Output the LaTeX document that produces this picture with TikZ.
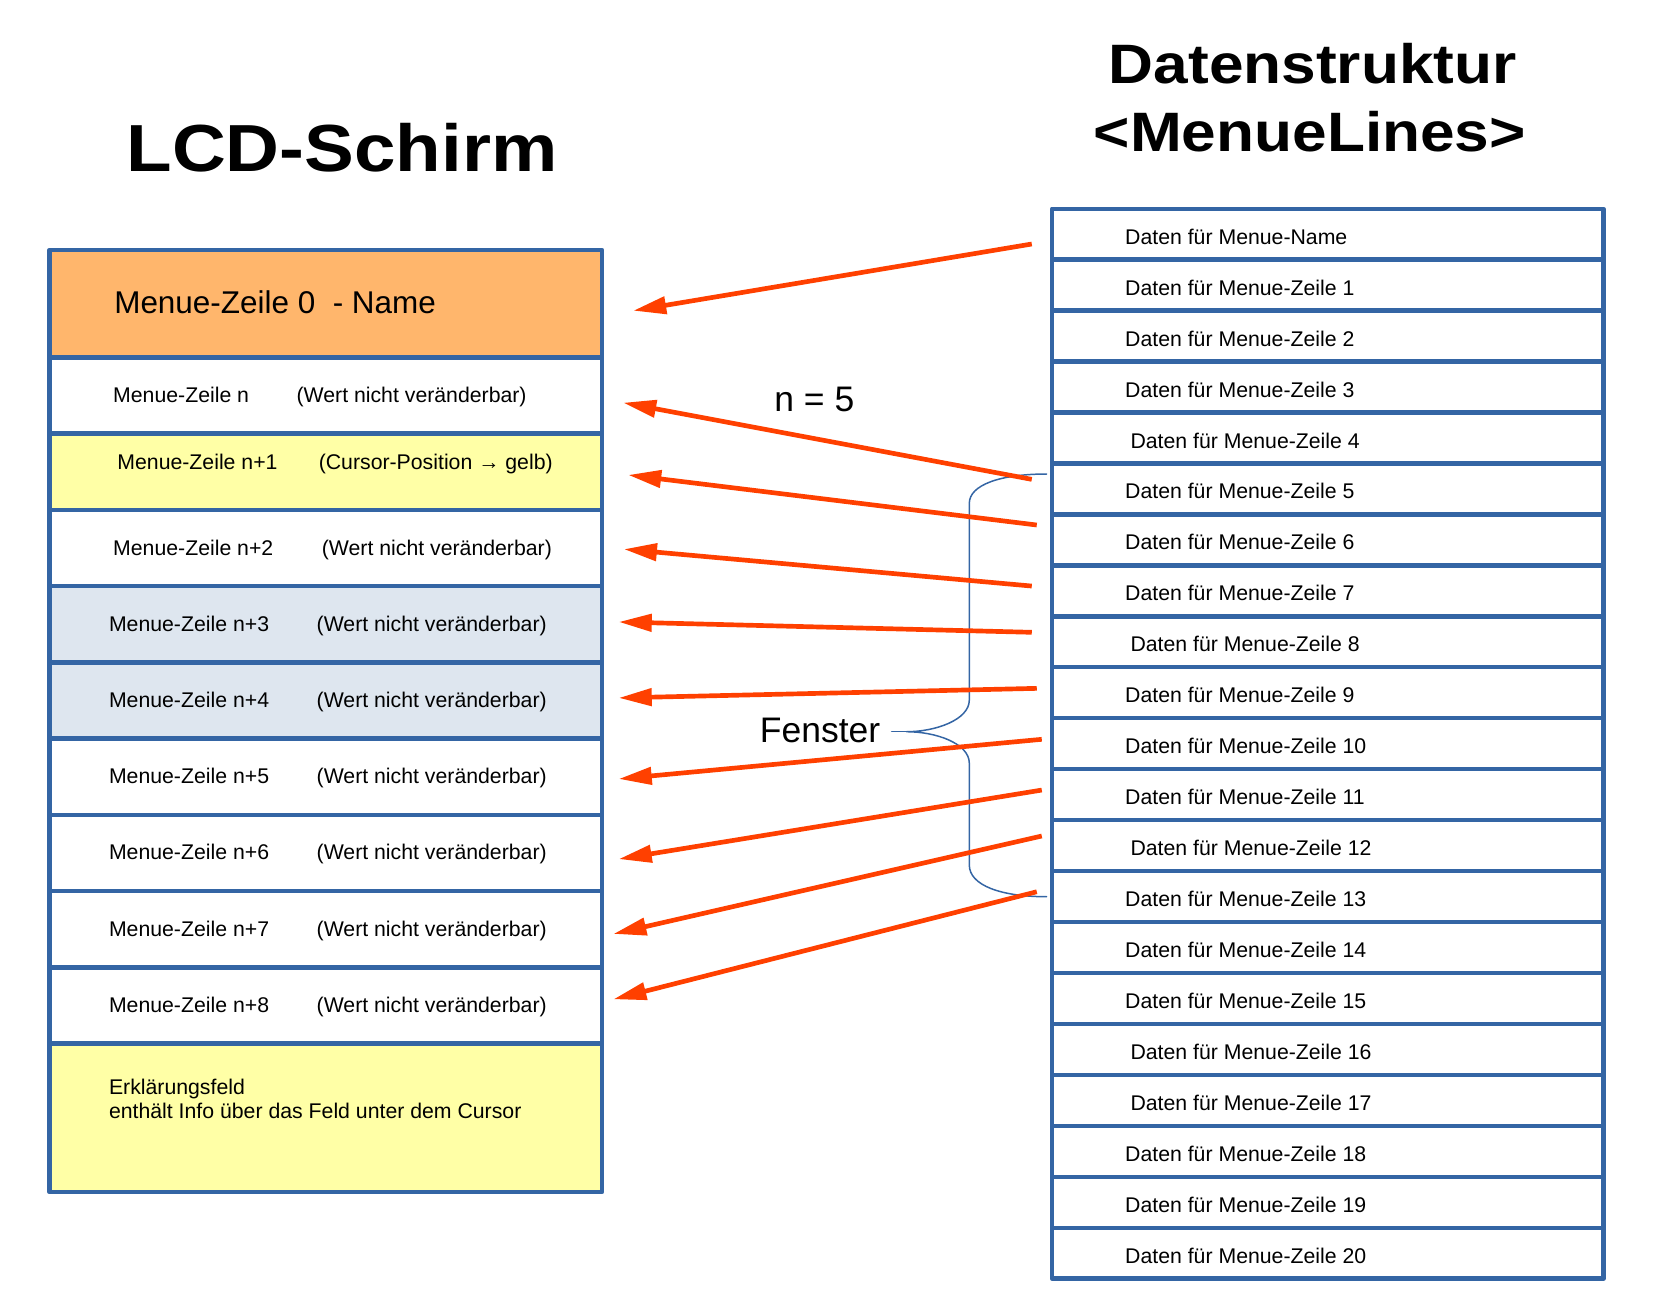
\documentclass[tikz,border=0pt]{standalone}
\usepackage{fontspec}
\setmainfont{Liberation Sans}
\newfontfamily\titlefont[FakeStretch=1.12]{Liberation Sans}
\usetikzlibrary{positioning,arrows.meta}
\definecolor{boxblue}{HTML}{3465A4}
\definecolor{headorange}{HTML}{FFB66C}
\definecolor{cursoryellow}{HTML}{FFFFA6}
\definecolor{paleblue}{HTML}{DEE6EF}
\definecolor{arrowred}{HTML}{FF4000}
\newcommand{\rowfont}{\fontsize{12.1pt}{14.5pt}\selectfont}
\newcommand{\bigfont}{\fontsize{20.2pt}{23pt}\selectfont}

\begin{document}
\begin{tikzpicture}[x=0.02cm, y=-0.02cm, line join=round, line cap=round,
    lcdrow/.style={draw=boxblue, line width=2.5pt, fill=white, minimum width=11.05cm, minimum height=1.5252cm, inner sep=0pt, outer sep=0pt},
    datarow/.style={draw=boxblue, line width=2.5pt, minimum width=11.03cm, minimum height=1.019cm, inner sep=0pt, outer sep=0pt},
    lbl/.style={anchor=base west, inner sep=0pt, font=\rowfont},
    arr/.style={draw=arrowred, line width=2.66pt, line cap=butt, -{Triangle[length=0.66cm,width=0.34cm]}}]
  \useasboundingbox (0,0) rectangle (1653,1299);

  \node[anchor=base, font={\titlefont\bfseries\fontsize{37.9pt}{40pt}\selectfont}] (lcdtitle) at (342,171.7) {LCD-Schirm};
  \node[anchor=base, font={\titlefont\bfseries\fontsize{31.6pt}{34pt}\selectfont}] (dstitle) at (1312.8,83.3) {Datenstruktur};
  \node[anchor=base, font={\titlefont\bfseries\fontsize{31.6pt}{34pt}\selectfont}] (mltitle) at (1309.8,151.7) {<MenueLines>};

  \node[lcdrow, fill=headorange, minimum height=2.148cm] (head) at (325.75,303.7) {};
  \node[lcdrow, below=0pt of head] (r0) {};
  \node[lcdrow, fill=cursoryellow, below=0pt of r0] (r1) {};
  \node[lcdrow, below=0pt of r1] (r2) {};
  \node[lcdrow, fill=paleblue, below=0pt of r2] (r3) {};
  \node[lcdrow, fill=paleblue, below=0pt of r3] (r4) {};
  \node[lcdrow, below=0pt of r4] (r5) {};
  \node[lcdrow, below=0pt of r5] (r6) {};
  \node[lcdrow, below=0pt of r6] (r7) {};
  \node[lcdrow, below=0pt of r7] (r8) {};
  \node[lcdrow, fill=cursoryellow, minimum height=2.972cm, below=0pt of r8] (expl) {};

  \node[lbl, font={\fontsize{17.9pt}{20pt}\selectfont}] (headtext) at ([shift={(64.4,9.3)}]head.west) {Menue-Zeile 0\ \ - Name};
  \node[lbl] (t0) at ([shift={(63.3,7)}]r0.west) {Menue-Zeile n};
  \node[lbl] (v0) at ([shift={(246.7,7)}]r0.west) {(Wert nicht veränderbar)};
  \node[lbl] (t1) at ([shift={(67.5,-2)}]r1.west) {Menue-Zeile n+1};
  \node[lbl] (v1) at ([shift={(268.9,-2)}]r1.west) {(Cursor-Position → gelb)};
  \node[lbl] (t2) at ([shift={(63.3,7)}]r2.west) {Menue-Zeile n+2};
  \node[lbl] (v2) at ([shift={(272,7)}]r2.west) {(Wert nicht veränderbar)};
  \foreach \i in {3,...,8} {
    \node[lbl] (t\i) at ([shift={(59.1,7)}]r\i.west) {Menue-Zeile n+\i};
    \node[lbl] (v\i) at ([shift={(266.8,7)}]r\i.west) {(Wert nicht veränderbar)};
  }
  \node[lbl] (expla) at ([shift={(59.1,50.8)}]expl.north west) {Erklärungsfeld};
  \node[lbl] (explb) at ([shift={(59.1,75)}]expl.north west) {enthält Info über das Feld unter dem Cursor};

  \foreach \i in {0,...,20}
    \node[datarow] (d\i) at (1327.75,{234.2+50.95*\i}) {};
  \node[lbl] (dt0) at ([shift={(72.8,10)}]d0.west) {Daten für Menue-Name};
  \foreach \i/\dx in {1/72.8,2/72.8,3/72.8,4/78.1,5/72.8,6/72.8,7/72.8,8/78.1,9/72.8,10/72.8,11/72.8,12/78.1,13/72.8,14/72.8,15/72.8,16/78.1,17/78.1,18/72.8,19/72.8,20/72.8}
    \node[lbl] (dt\i) at ([shift={(\dx,10)}]d\i.west) {Daten für Menue-Zeile \i};

  \draw[boxblue, line width=0.85pt] (1046.7,474) .. controls (1000,474) and (969.3,485) .. (969.3,503.3) -- (969.3,700) .. controls (969.3,720) and (935,731.7) .. (906.7,731.7) .. controls (935,731.7) and (969.3,743) .. (969.3,763.3) -- (969.3,865) .. controls (969.3,885) and (1000,896.7) .. (1046.7,896.7);
  \draw[boxblue, line width=0.85pt] (906.7,731.7) -- (891.7,731.7);

  \foreach \src/\sx/\sy/\dst/\ex/\ey in {d0/-20.3/9.8/head/31.3/7, d5/-20.3/-9.6/r0/21.3/7.2, d6/-15.3/-14.9/r1/26.3/3.2, d7/-20.3/-4.8/r2/22/1.2, d8/-20.3/-9.5/r3/16.8/-2.3, d9/-15.3/-4.4/r4/16.8/-2.6, d10/-10.3/-4.4/r5/16.8/2.2, d11/-10.3/-4.6/r6/16.8/6.1, d12/-10.3/-9.6/r7/11.5/4.7, d13/-15.3/-4.8/r8/11.5/-6.2}
    \draw[arr] ([shift={(\sx,\sy)}]\src.west) -- ([shift={(\ex,\ey)}]\dst.east);

  \node[anchor=base west, inner sep=0pt, font=\bigfont] (fenster) at (759.5,742.7) {Fenster};
  \node[anchor=base west, inner sep=0pt, font=\bigfont] (nval) at (774,411.7) {n = 5};
\end{tikzpicture}
\end{document}
